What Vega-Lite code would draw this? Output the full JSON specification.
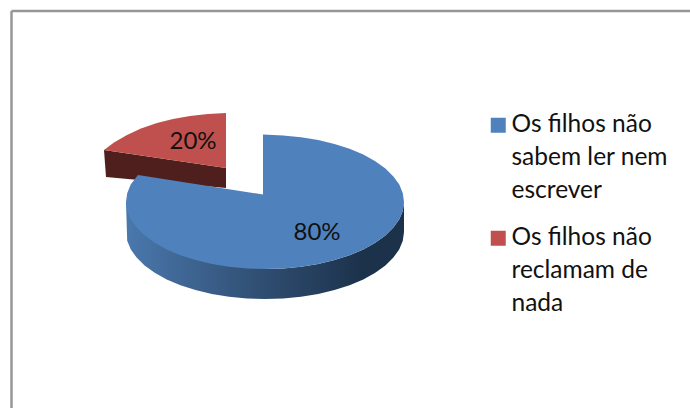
{"$schema":"https://vega.github.io/schema/vega-lite/v6.json","width":690,"height":408,"padding":0,"autosize":{"type":"none"},"background":"white","view":{"stroke":null},
"datasets":{
"blueTop":[{"s":"Os filhos não sabem ler nem escrever","i":0,"x":263,"y":134.5},{"s":"Os filhos não sabem ler nem escrever","i":1,"x":283.1,"y":135.6},{"s":"Os filhos não sabem ler nem escrever","i":2,"x":301,"y":137.3},{"s":"Os filhos não sabem ler nem escrever","i":3,"x":318.2,"y":140.1},{"s":"Os filhos não sabem ler nem escrever","i":4,"x":334.5,"y":144},{"s":"Os filhos não sabem ler nem escrever","i":5,"x":349.6,"y":148.8},{"s":"Os filhos não sabem ler nem escrever","i":6,"x":363.3,"y":154.6},{"s":"Os filhos não sabem ler nem escrever","i":7,"x":375.3,"y":161.2},{"s":"Os filhos não sabem ler nem escrever","i":8,"x":385.4,"y":168.5},{"s":"Os filhos não sabem ler nem escrever","i":9,"x":393.4,"y":176.4},{"s":"Os filhos não sabem ler nem escrever","i":10,"x":399.3,"y":184.6},{"s":"Os filhos não sabem ler nem escrever","i":11,"x":402.8,"y":193.3},{"s":"Os filhos não sabem ler nem escrever","i":12,"x":404,"y":202},{"s":"Os filhos não sabem ler nem escrever","i":13,"x":402.8,"y":210.7},{"s":"Os filhos não sabem ler nem escrever","i":14,"x":399.3,"y":219.3},{"s":"Os filhos não sabem ler nem escrever","i":15,"x":393.4,"y":227.6},{"s":"Os filhos não sabem ler nem escrever","i":16,"x":385.4,"y":235.5},{"s":"Os filhos não sabem ler nem escrever","i":17,"x":375.3,"y":242.8},{"s":"Os filhos não sabem ler nem escrever","i":18,"x":363.3,"y":249.4},{"s":"Os filhos não sabem ler nem escrever","i":19,"x":349.6,"y":255.2},{"s":"Os filhos não sabem ler nem escrever","i":20,"x":334.5,"y":260},{"s":"Os filhos não sabem ler nem escrever","i":21,"x":318.2,"y":263.9},{"s":"Os filhos não sabem ler nem escrever","i":22,"x":301,"y":266.7},{"s":"Os filhos não sabem ler nem escrever","i":23,"x":283.1,"y":268.4},{"s":"Os filhos não sabem ler nem escrever","i":24,"x":265,"y":269},{"s":"Os filhos não sabem ler nem escrever","i":25,"x":246.9,"y":268.4},{"s":"Os filhos não sabem ler nem escrever","i":26,"x":229,"y":266.7},{"s":"Os filhos não sabem ler nem escrever","i":27,"x":211.8,"y":263.9},{"s":"Os filhos não sabem ler nem escrever","i":28,"x":195.5,"y":260},{"s":"Os filhos não sabem ler nem escrever","i":29,"x":180.4,"y":255.2},{"s":"Os filhos não sabem ler nem escrever","i":30,"x":166.7,"y":249.4},{"s":"Os filhos não sabem ler nem escrever","i":31,"x":154.7,"y":242.8},{"s":"Os filhos não sabem ler nem escrever","i":32,"x":144.6,"y":235.5},{"s":"Os filhos não sabem ler nem escrever","i":33,"x":136.6,"y":227.6},{"s":"Os filhos não sabem ler nem escrever","i":34,"x":130.7,"y":219.3},{"s":"Os filhos não sabem ler nem escrever","i":35,"x":127.2,"y":210.7},{"s":"Os filhos não sabem ler nem escrever","i":36,"x":126,"y":202},{"s":"Os filhos não sabem ler nem escrever","i":37,"x":127.2,"y":193.3},{"s":"Os filhos não sabem ler nem escrever","i":38,"x":130.7,"y":184.6},{"s":"Os filhos não sabem ler nem escrever","i":39,"x":138,"y":175},{"s":"Os filhos não sabem ler nem escrever","i":40,"x":263,"y":194.5}],
"blueSide":[{"i":0,"x":404,"y":202},{"i":1,"x":402.8,"y":210.7},{"i":2,"x":399.3,"y":219.3},{"i":3,"x":393.4,"y":227.6},{"i":4,"x":385.4,"y":235.5},{"i":5,"x":375.3,"y":242.8},{"i":6,"x":363.3,"y":249.4},{"i":7,"x":349.6,"y":255.2},{"i":8,"x":334.5,"y":260},{"i":9,"x":318.2,"y":263.9},{"i":10,"x":301,"y":266.7},{"i":11,"x":283.1,"y":268.4},{"i":12,"x":265,"y":269},{"i":13,"x":126,"y":202},{"i":14,"x":127.2,"y":240.7},{"i":15,"x":130.7,"y":249.3},{"i":16,"x":136.6,"y":257.6},{"i":17,"x":144.6,"y":265.5},{"i":18,"x":154.7,"y":272.8},{"i":19,"x":166.7,"y":279.4},{"i":20,"x":180.4,"y":285.2},{"i":21,"x":195.5,"y":290},{"i":22,"x":211.8,"y":293.9},{"i":23,"x":229,"y":296.7},{"i":24,"x":246.9,"y":298.4},{"i":25,"x":265,"y":299},{"i":26,"x":283.1,"y":298.4},{"i":27,"x":301,"y":296.7},{"i":28,"x":318.2,"y":293.9},{"i":29,"x":334.5,"y":290},{"i":30,"x":349.6,"y":285.2},{"i":31,"x":363.3,"y":279.4},{"i":32,"x":375.3,"y":272.8},{"i":33,"x":385.4,"y":265.5},{"i":34,"x":393.4,"y":257.6},{"i":35,"x":399.3,"y":249.3},{"i":36,"x":402.8,"y":240.7},{"i":37,"x":404,"y":232}],
"redTop":[{"s":"Os filhos não reclamam de nada","i":0,"x":226,"y":113},{"s":"Os filhos não reclamam de nada","i":1,"x":226,"y":168},{"s":"Os filhos não reclamam de nada","i":2,"x":104,"y":150},{"s":"Os filhos não reclamam de nada","i":3,"x":114,"y":142.5},{"s":"Os filhos não reclamam de nada","i":4,"x":127,"y":135},{"s":"Os filhos não reclamam de nada","i":5,"x":141,"y":128.5},{"s":"Os filhos não reclamam de nada","i":6,"x":157,"y":123},{"s":"Os filhos não reclamam de nada","i":7,"x":173,"y":119},{"s":"Os filhos não reclamam de nada","i":8,"x":190,"y":116},{"s":"Os filhos não reclamam de nada","i":9,"x":208,"y":114}],
"redSide":[{"i":0,"x":104,"y":150},{"i":1,"x":226,"y":168},{"i":2,"x":226,"y":188},{"i":3,"x":106,"y":177}],
"labels":[{"t":"80%","x":317,"y":233},{"t":"20%","x":193,"y":142}],
"frame":[{"x":11.5,"x2":690,"y":11,"y2":11},{"x":11.5,"x2":11.5,"y":11,"y2":408}]
},
"layer":[
{"data":{"name":"frame"},"mark":{"type":"rule","color":"#969696","strokeWidth":2.5},"encoding":{"x":{"field":"x","type":"quantitative","scale":{"domain":[0,690],"nice":false,"zero":false},"axis":null},"x2":{"field":"x2"},"y":{"field":"y","type":"quantitative","scale":{"domain":[408,0],"nice":false,"zero":false},"axis":null},"y2":{"field":"y2"}}},
{"data":{"name":"redSide"},"mark":{"type":"line","filled":true,"fill":"#4f1f1d","stroke":null,"strokeWidth":0},"encoding":{"x":{"field":"x","type":"quantitative"},"y":{"field":"y","type":"quantitative"},"order":{"field":"i"}}},
{"data":{"name":"redTop"},"mark":{"type":"line","filled":true,"strokeWidth":0},"encoding":{"x":{"field":"x","type":"quantitative"},"y":{"field":"y","type":"quantitative"},"order":{"field":"i"},"color":{"field":"s","type":"nominal","scale":{"domain":["Os filhos não sabem ler nem escrever","Os filhos não reclamam de nada"],"range":["#4f81bd","#c0504d"]},"legend":{"title":null,"orient":"none","legendX":486,"legendY":113,"symbolType":"square","symbolSize":225,"symbolStrokeWidth":0,"labelFont":"Lato","labelFontSize":24.5,"labelColor":"#111111","labelLimit":0,"labelOffset":1,"rowPadding":22,"labelBaseline":"top","labelExpr":"datum.label == 'Os filhos não sabem ler nem escrever' ? ['Os filhos não','sabem ler nem','escrever'] : ['Os filhos não','reclamam de','nada']","encode":{"labels":{"update":{"lineHeight":{"value":33},"dy":{"value":-12}}}}}}}},
{"data":{"name":"blueSide"},"mark":{"type":"line","filled":true,"stroke":null,"strokeWidth":0,"fill":{"x1":0,"x2":1,"y1":0,"y2":0,"gradient":"linear","stops":[{"offset":0,"color":"#4a78ad"},{"offset":0.5,"color":"#2f4d70"},{"offset":0.85,"color":"#1c324b"},{"offset":1,"color":"#1c324b"}]}},"encoding":{"x":{"field":"x","type":"quantitative"},"y":{"field":"y","type":"quantitative"},"order":{"field":"i"}}},
{"data":{"name":"blueTop"},"mark":{"type":"line","filled":true,"strokeWidth":0},"encoding":{"x":{"field":"x","type":"quantitative"},"y":{"field":"y","type":"quantitative"},"order":{"field":"i"},"color":{"field":"s","type":"nominal"}}},
{"data":{"name":"labels"},"mark":{"type":"text","font":"Lato","fontSize":24,"color":"#111111"},"encoding":{"x":{"field":"x","type":"quantitative"},"y":{"field":"y","type":"quantitative"},"text":{"field":"t","type":"nominal"}}}
]}
